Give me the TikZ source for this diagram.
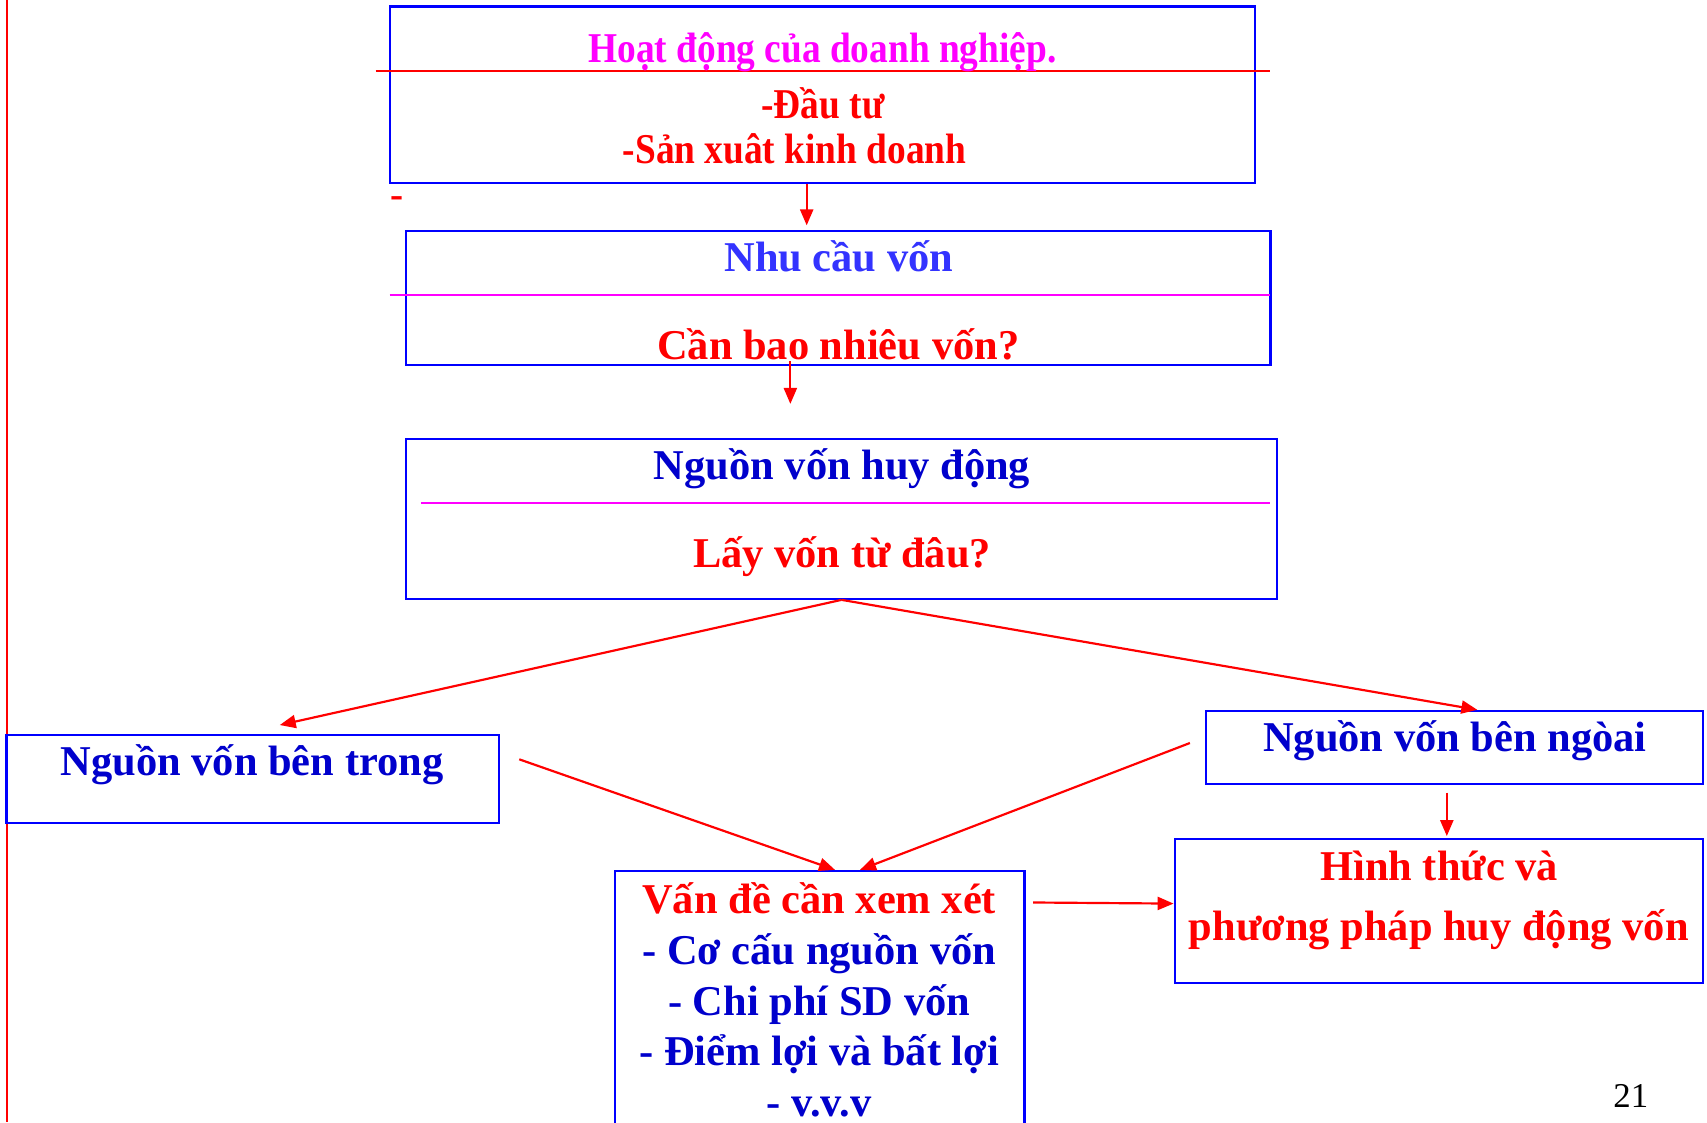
\documentclass[tikz,border=0pt]{standalone}
\usepackage{fontspec}
\setmainfont{Liberation Serif}
\newfontfamily\narrowserif[FakeStretch=0.88]{Liberation Serif}
\usetikzlibrary{arrows.meta,calc,fit}

\definecolor{boxblue}{HTML}{0000FF}
\definecolor{textblue}{HTML}{0000CC}
\definecolor{lightblue}{HTML}{3333FF}
\definecolor{rulepink}{HTML}{FF00FF}
\definecolor{arrred}{HTML}{FF0000}

\tikzset{every picture/.style={line width=0.75pt}}
\tikzset{
  box/.style={draw=boxblue, line width=1.5pt, inner sep=0pt},
  big/.style={font=\bfseries\fontsize{29.25}{35}\selectfont, inner sep=0pt, anchor=base},
  narrow/.style={font=\narrowserif\bfseries\fontsize{29.25}{35}\selectfont, inner sep=0pt, anchor=base},
  arr/.style={draw=arrred, line width=1.5pt, -{Triangle[length=11pt,width=9pt]}},
}

\begin{document}
\begin{tikzpicture}[x=0.75pt,y=0.75pt,yscale=-1,xscale=1]
	\useasboundingbox (0,0) rectangle (1568,1031);

	%Straight Lines [left margin]
	\draw [arrred, line width=1.5pt] (6.5,0) -- (6.5,1031) ;

	%Shape: Rectangle [hoat dong]
	\node [box, fit={(358,6) (1153,168)}] (hoatdong) {};
	\draw [arrred, line width=1.5pt] (345,65) -- (1167,65) ;
	% Text Node
	\node [narrow, text=rulepink] (hdtitle) at (755.5,57.8) {Hoạt động của doanh nghiệp.};
	% Text Node
	\node [narrow, text=arrred] (hddautu) at (756,109) {-Đầu tư};
	% Text Node
	\node [narrow, text=arrred] (hdsxkd) at (730,150) {-Sản xuât kinh doanh};
	% Text Node
	\node [big, text=arrred, font=\bfseries\fontsize{27}{30}\selectfont] (hddash) at (365,191) {-};

	%Shape: Rectangle [nhu cau von]
	\node [box, fit={(373,212) (1167,335)}] (nhucau) {};
	\draw [rulepink, line width=1.5pt] (358,271) -- (1167,271) ;
	% Text Node
	\node [big, text=lightblue] (nctitle) at (770.5,249.8) {Nhu cầu vốn};
	% Text Node
	\node [big, text=arrred] (ncq) at (770,329.8) {Cần bao nhiêu vốn?};

	%Shape: Rectangle [nguon von huy dong]
	\node [box, fit={(373,403) (1173,550)}] (huydong) {};
	\draw [rulepink, line width=1.5pt] (387,462) -- (1167,462) ;
	% Text Node
	\node [big, text=textblue] (hdgtitle) at (773.5,440.5) {Nguồn vốn huy động};
	% Text Node
	\node [big, text=arrred] (hdgq) at (773.5,521.2) {Lấy vốn từ đâu?};

	%Shape: Rectangle [ben trong]
	\node [box, fit={(6,675) (458,756)}] (bentrong) {};
	% Text Node
	\node [big, text=textblue] (bttext) at (231.5,712.8) {Nguồn vốn bên trong};

	%Shape: Rectangle [ben ngoai]
	\node [box, fit={(1108,653) (1564,720)}] (benngoai) {};
	% Text Node
	\node [big, text=textblue] (bntext) at (1336.5,690.7) {Nguồn vốn bên ngòai};

	%Shape: Rectangle [van de can xem xet]
	\node [box, fit={(565,800) (941,1045)}] (vande) {};
	% Text Node
	\node [big, text=arrred] (vdtitle) at (752.5,839) {Vấn đề cần xem xét};
	% Text Node
	\node [big, text=textblue] (vdcocau) at (752.5,885.7) {- Cơ cấu nguồn vốn};
	% Text Node
	\node [big, text=textblue] (vdchiphi) at (752.5,932.4) {- Chi phí SD vốn};
	% Text Node
	\node [big, text=textblue] (vddiem) at (752.5,979.1) {- Điểm lợi và bất lợi};
	% Text Node
	\node [big, text=textblue] (vdvvv) at (752.5,1025.8) {- v.v.v};

	%Shape: Rectangle [hinh thuc]
	\node [box, fit={(1079,771) (1564,903)}] (hinhthuc) {};
	% Text Node
	\node [big, text=arrred] (htline1) at (1322,809.2) {Hình thức và};
	% Text Node
	\node [big, text=arrred] (htline2) at (1321.7,864) {phương pháp huy động vốn};

	% Text Node
	\node [anchor=base, inner sep=0pt, font=\fontsize{24}{28}\selectfont] (pageno) at (1498,1017) {21};

	%Connectors
	\coordinate (hdg-in) at (726,371);
	\draw [arr] ($(hoatdong.south)+(-14.5,0)$) -- ($(nhucau.north)+(-29,-4)$) ;
	\draw [arr] ($(nhucau.south)+(-44,-4)$) -- (hdg-in) ;
	\draw [arr] (huydong.south) -- ($(bentrong.north)+(25,-8)$) ;
	\draw [arr] (huydong.south) -- ($(benngoai.north)+(21,0)$) ;
	\draw [arr] ($(bentrong.east)+(18,-18)$) -- ($(vande.north)+(14,0)$) ;
	\draw [arr] ($(benngoai.west)+(-14,-4)$) -- ($(vande.north)+(37,0)$) ;
	\draw [arr] ($(vande.north east)+(7,30)$) -- ($(hinhthuc.west)+(0,-7)$) ;
	\draw [arr] ($(benngoai.south)+(-7,7)$) -- ($(hinhthuc.north)+(7.5,-2)$) ;

\end{tikzpicture}
\end{document}
